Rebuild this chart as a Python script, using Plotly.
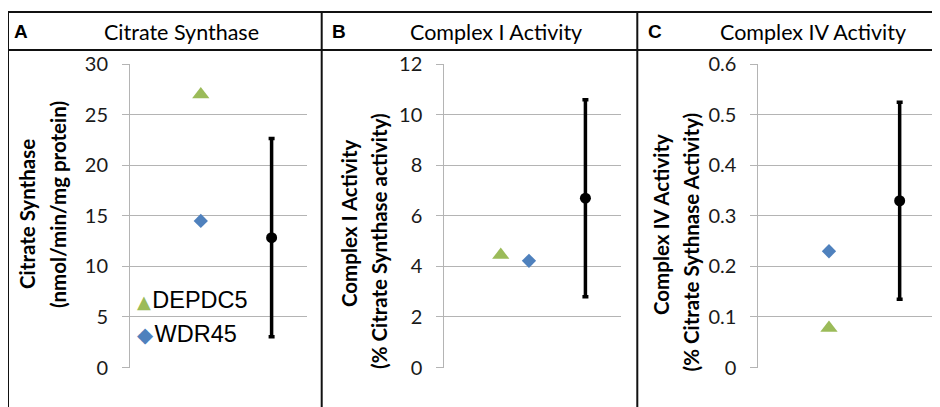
import plotly.graph_objects as go

W, H = 940, 407

# ---- data ----
panel_titles = ["Citrate Synthase", "Complex I Activity", "Complex IV Activity"]
panel_letters = ["A", "B", "C"]
ytitle_line1 = ["Citrate Synthase", "Complex I Activity", "Complex IV Activity"]
ytitle_line2 = ["(nmol/min/mg protein)", "(% Citrate Synthase activity)", "(% Citrate Sythnase Activity)"]
series_names = ["DEPDC5", "WDR45"]

depdc5_values = [27.0, 4.45, 0.078]
wdr45_values = [14.5, 4.22, 0.23]
control_mean = [12.85, 6.70, 0.33]
control_sd = [9.8, 3.9, 0.195]

depdc5_xpos = [1, 0.8, 1]
wdr45_xpos = [1, 1.2, 1]
control_xpos = [2, 2, 2]

y_ranges = [[0, 30], [0, 12], [0, 0.6]]
y_dtick = [5, 2, 0.1]

# ---- layout helpers (page pixel -> paper); page body has an 8px margin ----
OFF = 8

def px(x):
    return (x - OFF) / W

def py(y):
    return 1 - (y - OFF) / H

x_domains = [[130, 307], [444.3, 620.7], [758.3, 935]]
y_top, y_bot = 64.3, 367.5

GREEN = "#9BBB59"
BLUE = "#4F81BD"
GRID = "#b4b4b4"
CAL = "Lato, Carlito, Calibri, sans-serif"
ARIAL = "Liberation Sans, Arial, sans-serif"

fig = go.Figure()

for i in range(3):
    xa = "x" if i == 0 else f"x{i+1}"
    ya = "y" if i == 0 else f"y{i+1}"
    fig.add_trace(go.Scatter(
        x=[depdc5_xpos[i]], y=[depdc5_values[i]], mode="markers", name=series_names[0],
        marker=dict(symbol="triangle-up", size=15, color=GREEN),
        xaxis=xa, yaxis=ya, showlegend=False))
    fig.add_trace(go.Scatter(
        x=[wdr45_xpos[i]], y=[wdr45_values[i]], mode="markers", name=series_names[1],
        marker=dict(symbol="diamond", size=11, color=BLUE),
        xaxis=xa, yaxis=ya, showlegend=False))
    fig.add_trace(go.Scatter(
        x=[control_xpos[i]], y=[control_mean[i]], mode="markers", name="Control",
        marker=dict(symbol="circle", size=11, color="black"),
        error_y=dict(type="data", array=[control_sd[i]], color="black",
                     thickness=3.5, width=3),
        xaxis=xa, yaxis=ya, showlegend=False))

layout_axes = {}
for i in range(3):
    xk = "xaxis" if i == 0 else f"xaxis{i+1}"
    yk = "yaxis" if i == 0 else f"yaxis{i+1}"
    layout_axes[xk] = dict(domain=[px(x_domains[i][0]), px(x_domains[i][1])],
                           range=[0, 2.5], visible=False, automargin=False,
                           anchor="y" if i == 0 else f"y{i+1}")
    layout_axes[yk] = dict(domain=[py(y_bot), py(y_top)], range=y_ranges[i],
                           dtick=y_dtick[i], tick0=0, automargin=False,
                           showgrid=True, gridcolor=GRID, gridwidth=1,
                           showline=True, linecolor=GRID, linewidth=1,
                           ticks="outside", ticklen=7, tickcolor=GRID, tickwidth=1,
                           ticklabelstandoff=10, zeroline=False,
                           tickfont=dict(family=CAL, size=20, color="#1a1a1a"),
                           anchor="x" if i == 0 else f"x{i+1}")

fig.update_layout(**layout_axes)

# borders
border = dict(color="#111111", width=2)
shapes = [
    dict(type="line", xref="paper", yref="paper", x0=px(8), x1=px(960), y0=py(12), y1=py(12), line=border),
    dict(type="line", xref="paper", yref="paper", x0=px(8), x1=px(960), y0=py(50), y1=py(50), line=border),
    dict(type="line", xref="paper", yref="paper", x0=px(8), x1=px(8), y0=py(12), y1=py(430), line=border),
    dict(type="line", xref="paper", yref="paper", x0=px(321.7), x1=px(321.7), y0=py(12), y1=py(430), line=border),
    dict(type="line", xref="paper", yref="paper", x0=px(637.3), x1=px(637.3), y0=py(12), y1=py(430), line=border),
]

annotations = []
letter_x = [12.2, 329.5, 646.2]
title_cx = [181.5, 496, 812.5]
l1_x = [27, 349, 661]
l1_y = [214, 223, 225]
l2_x = [58, 379, 690]
l2_y = [205, 241, 242.5]
for i in range(3):
    annotations.append(dict(text=panel_letters[i], xref="paper", yref="paper",
                            x=px(letter_x[i]), y=py(31.7), xanchor="left", yanchor="middle",
                            showarrow=False,
                            font=dict(family=ARIAL, size=19, color="black", weight="bold")))
    annotations.append(dict(text=panel_titles[i], xref="paper", yref="paper",
                            x=px(title_cx[i]), y=py(31.7), xanchor="center", yanchor="middle",
                            showarrow=False,
                            font=dict(family=CAL, size=21.5, color="black")))
    annotations.append(dict(text=ytitle_line1[i], xref="paper", yref="paper",
                            x=px(l1_x[i]), y=py(l1_y[i]), xanchor="center", yanchor="middle",
                            textangle=-90, showarrow=False,
                            font=dict(family=CAL, size=20.5, color="black", weight="bold")))
    annotations.append(dict(text=ytitle_line2[i], xref="paper", yref="paper",
                            x=px(l2_x[i]), y=py(l2_y[i]), xanchor="center", yanchor="middle",
                            textangle=-90, showarrow=False,
                            font=dict(family=CAL, size=20.5, color="black", weight="bold")))

# legend drawn as text with coloured glyphs
legend_glyphs = ["\u25B2", "\u25C6"]
legend_colors = [GREEN, BLUE]
legend_glyph_size = [18, 21]
legend_y = [300.0, 334]
for k in range(2):
    annotations.append(dict(
        text=(f"<span style='color:{legend_colors[k]};font-size:{legend_glyph_size[k]}px;"
              f"font-family:DejaVu Sans'>{legend_glyphs[k]}</span>"
              f"<span style='font-size:5px'> </span>{series_names[k]}"),
        xref="paper", yref="paper", x=px(135), y=py(legend_y[k]),
        xanchor="left", yanchor="middle", showarrow=False,
        font=dict(family=ARIAL, size=23.5, color="black")))

fig.update_layout(
    width=W, height=H, margin=dict(l=0, r=0, t=0, b=0, pad=0, autoexpand=False),
    paper_bgcolor="white", plot_bgcolor="white",
    shapes=shapes, annotations=annotations,
    showlegend=False,
)

fig.write_html("out.html")
